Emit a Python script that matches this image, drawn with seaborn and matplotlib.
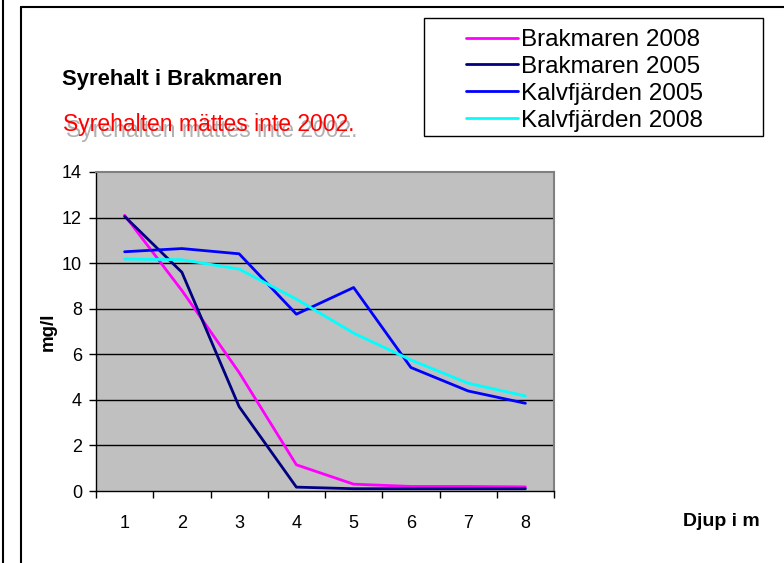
import matplotlib
matplotlib.use("Agg")
import matplotlib.pyplot as plt
import numpy as np
import pandas as pd
import seaborn as sns
from matplotlib.lines import Line2D
from matplotlib.patches import Rectangle
from matplotlib.ticker import FixedLocator

# data
djup = [1, 2, 3, 4, 5, 6, 7, 8]
brak_2008 = [12.1, 8.8, 5.2, 1.15, 0.3, 0.2, 0.2, 0.18]
brak_2005 = [12.05, 9.6, 3.7, 0.17, 0.1, 0.1, 0.1, 0.1]
kalv_2005 = [10.5, 10.64, 10.41, 7.76, 8.93, 5.42, 4.39, 3.85]
kalv_2008 = [10.18, 10.15, 9.74, 8.42, 6.93, 5.75, 4.73, 4.17]
serier = ["Brakmaren 2008", "Brakmaren 2005", "Kalvfjärden 2005", "Kalvfjärden 2008"]
farger = ["#FF00FF", "#000080", "#0000FF", "#00FFFF"]
y_ticks = [0, 2, 4, 6, 8, 10, 12, 14]

df = pd.DataFrame({"Djup": djup * 4,
                   "mg/l": brak_2008 + brak_2005 + kalv_2005 + kalv_2008,
                   "Serie": [s for s in serier for _ in djup]})

sns.set_style("white")
plt.rcParams["font.family"] = ["Liberation Sans", "DejaVu Sans"]
plt.rcParams["text.color"] = "black"
plt.rcParams["axes.labelcolor"] = "black"
plt.rcParams["xtick.color"] = "black"
plt.rcParams["ytick.color"] = "black"

W, H = 784, 563
fig = plt.figure(figsize=(W / 100, H / 100), dpi=100)
ax = fig.add_axes([96 / W, 1 - 491 / H, (554 - 96) / W, (491 - 172) / H])
ax.set_facecolor("#C0C0C0")

sns.lineplot(data=df, x="Djup", y="mg/l", hue="Serie", hue_order=serier,
             palette=farger, linewidth=2, ax=ax, legend=False)

ax.set_xlim(0.5, 8.5)
ax.set_ylim(0, 14)
ax.set_yticks(y_ticks)
ax.set_yticklabels([str(v) for v in y_ticks], fontsize=13)
ax.xaxis.set_major_locator(FixedLocator(np.arange(0.5, 9, 1)))
ax.set_xticklabels([])
ax.xaxis.set_minor_locator(FixedLocator(djup))
ax.set_xticklabels([str(d) for d in djup], minor=True, fontsize=13)
ax.tick_params(axis="x", which="major", direction="out", length=5, width=1,
               color="black", bottom=True)
ax.tick_params(axis="x", which="minor", length=0, pad=17)
ax.tick_params(axis="y", direction="out", length=5, width=1, color="black",
               left=True, pad=5)

for v in y_ticks[1:-1]:
    ax.axhline(v, color="black", linewidth=1, zorder=0.5)

for side in ["top", "right"]:
    ax.spines[side].set_color("#808080")
    ax.spines[side].set_linewidth(1.5)
for side in ["left", "bottom"]:
    ax.spines[side].set_color("black")
    ax.spines[side].set_linewidth(1)

ax.set_xlabel("")
ax.set_ylabel("mg/l", fontsize=13.5, fontweight="bold")
ax.yaxis.set_label_coords(-0.085, 0.5)

fig.text(683 / W, 1 - 522 / H, "Djup i m", fontsize=14, fontweight="bold",
         va="center", ha="left")

fig.text(62 / W, 1 - 80 / H, "Syrehalt i Brakmaren", fontsize=15.8,
         fontweight="bold", va="center", ha="left")
# red note with grey shadow
fig.text(66 / W, 1 - 131 / H, "Syrehalten mättes inte 2002.", fontsize=16.5,
         color="#B0B0B0", va="center", ha="left")
fig.text(63 / W, 1 - 124 / H, "Syrehalten mättes inte 2002.", fontsize=16.5,
         color="#FF0000", va="center", ha="left")

# legend box
fig.add_artist(Rectangle((424 / W, 1 - 136 / H), (763 - 424) / W, (136 - 18) / H,
                         transform=fig.transFigure, facecolor="white",
                         edgecolor="black", linewidth=1, zorder=1))
handles = [Line2D([], [], color=c, linewidth=2) for c in farger]
leg = fig.legend(handles, serier, loc="upper left",
                 bbox_to_anchor=(466 / W, 1 - 29 / H), frameon=False,
                 fontsize=17.5, borderpad=0, borderaxespad=0, handlelength=2.15,
                 handletextpad=0.12, labelspacing=0.2)
leg.set_zorder(2)

# outer frame
fig.add_artist(Line2D([3 / W, 3 / W], [0, 1], color="black", linewidth=1.5))
fig.add_artist(Line2D([21 / W, 21 / W], [0, 1 - 7 / H], color="black", linewidth=1.5))
fig.add_artist(Line2D([21 / W, 1], [1 - 7 / H, 1 - 7 / H], color="black", linewidth=1.5))

fig.savefig("out.png", dpi=100, facecolor="white")
